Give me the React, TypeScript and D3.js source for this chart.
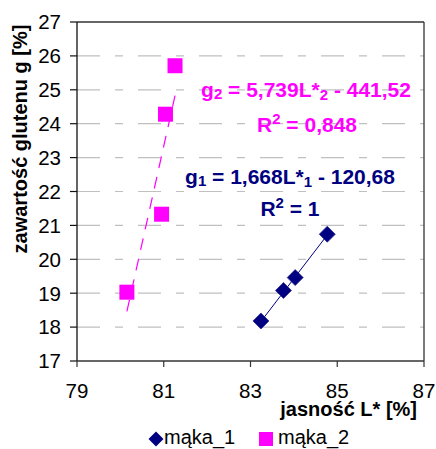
import React from "react";
import * as d3 from "d3";

const xTicks = [79, 81, 83, 85, 87];
const yTicks = [17, 18, 19, 20, 21, 22, 23, 24, 25, 26, 27];

const maka1X = [83.24, 83.76, 84.03, 84.77];
const maka1Y = [18.18, 19.08, 19.46, 20.74];
const maka2X = [80.15, 80.95, 81.04, 81.26];
const maka2Y = [19.03, 21.33, 24.28, 25.71];

const trend1 = [1.668, -120.68];
const trend2 = [5.739, -441.52];

const seriesNames = ["mąka_1", "mąka_2"];
const NAVY = "#000080";
const MAGENTA = "#FF00FF";
const FONT = "'Liberation Sans', Arial, sans-serif";

export default function App() {
  const W = 436, H = 449;
  const left = 77, right = 424, top = 22, bottom = 361;
  const x = d3.scaleLinear().domain([79, 87]).range([left, right]);
  const y = d3.scaleLinear().domain([17, 27]).range([bottom, top]);

  const trendPts = (xs: number[], c: number[]) => {
    const x0 = d3.min(xs)!, x1 = d3.max(xs)!;
    return [x0, x1].map((v) => [v, c[0] * v + c[1]] as [number, number]);
  };
  const line = d3.line<[number, number]>().x((d) => x(d[0])).y((d) => y(d[1]));

  const diamond = (cx: number, cy: number, r: number) =>
    `M${cx},${cy - r}L${cx + r},${cy}L${cx},${cy + r}L${cx - r},${cy}Z`;

  return (
    <svg width={W} height={H} style={{ position: "absolute", left: 0, top: 0, background: "#fff" }} fontFamily={FONT}>
      {/* gridlines */}
      {yTicks.filter((t) => t !== 17 && t !== 27).map((t) => (
        <line key={"g" + t} x1={left} x2={right} y1={y(t)} y2={y(t)} stroke="#c0c0c0" strokeWidth={1.2} strokeDasharray="23 15 8 15" />
      ))}
      {/* border */}
      <line x1={left} x2={right} y1={top} y2={top} stroke="#333" strokeWidth={1.3} />
      <line x1={right} x2={right} y1={top} y2={bottom} stroke="#333" strokeWidth={1.3} />
      <line x1={left} x2={left} y1={top} y2={bottom} stroke="#111" strokeWidth={1.3} />
      <line x1={left} x2={right} y1={bottom} y2={bottom} stroke="#333" strokeWidth={1.3} />
      {/* y ticks */}
      {yTicks.map((t) => (
        <g key={"yt" + t}>
          <line x1={left - 7} x2={left} y1={y(t)} y2={y(t)} stroke="#111" strokeWidth={1.2} />
          <text x={61} y={y(t)} dy="0.36em" textAnchor="end" fontSize={20.5} fill="#000">{t}</text>
        </g>
      ))}
      {/* x ticks */}
      {xTicks.map((t) => (
        <g key={"xt" + t}>
          <line x1={x(t)} x2={x(t)} y1={bottom} y2={bottom + 6} stroke="#333" strokeWidth={1.2} />
          <text x={x(t)} y={398} textAnchor="middle" fontSize={20.5} fill="#000">{t}</text>
        </g>
      ))}
      {/* axis titles */}
      <text x={417} y={416} textAnchor="end" fontSize={20} fontWeight="bold" fill="#000">jasność L* [%]</text>
      <text transform="translate(27,139) rotate(-90)" textAnchor="middle" fontSize={20} fontWeight="bold" fill="#000">zawartość glutenu g [%]</text>

      {/* trend lines */}
      <path d={line(trendPts(maka1X, trend1))!} stroke={NAVY} strokeWidth={1} fill="none" />
      <path d={line(trendPts(maka2X, trend2))!} stroke={MAGENTA} strokeWidth={1.2} fill="none" strokeDasharray="12 9" />

      {/* markers */}
      {maka1X.map((v, i) => (
        <path key={"d" + i} d={diamond(x(v), y(maka1Y[i]), 8)} fill={NAVY} stroke="#2a2a90" strokeWidth={0.8} />
      ))}
      {maka2X.map((v, i) => (
        <rect key={"s" + i} x={x(v) - 7.5} y={y(maka2Y[i]) - 7.5} width={15} height={15} fill={MAGENTA} />
      ))}

      {/* equations */}
      <text x={306} y={97} textAnchor="middle" fontSize={21} fontWeight="bold" fill={MAGENTA}>
        g<tspan fontSize={15} dy={2}>2</tspan><tspan dy={-2}> = 5,739L*</tspan><tspan fontSize={15} dy={3}>2</tspan><tspan dy={-3}> - 441,52</tspan>
      </text>
      <text x={307} y={132} textAnchor="middle" fontSize={21} fontWeight="bold" fill={MAGENTA}>
        R<tspan fontSize={15} dy={-8}>2</tspan><tspan dy={8}> = 0,848</tspan>
      </text>
      <text x={290} y={184} textAnchor="middle" fontSize={21} fontWeight="bold" fill={NAVY}>
        g<tspan fontSize={15} dy={2}>1</tspan><tspan dy={-2}> = 1,668L*</tspan><tspan fontSize={15} dy={3}>1</tspan><tspan dy={-3}> - 120,68</tspan>
      </text>
      <text x={290} y={216} textAnchor="middle" fontSize={21} fontWeight="bold" fill={NAVY}>
        R<tspan fontSize={15} dy={-8}>2</tspan><tspan dy={8}> = 1</tspan>
      </text>

      {/* legend */}
      <path d={diamond(156, 439, 7.5)} fill={NAVY} />
      <text x={164} y={444} fontSize={20} fill="#000">{seriesNames[0]}</text>
      <rect x={259} y={432} width={14} height={14} fill={MAGENTA} />
      <text x={278} y={444} fontSize={20} fill="#000">{seriesNames[1]}</text>
    </svg>
  );
}
